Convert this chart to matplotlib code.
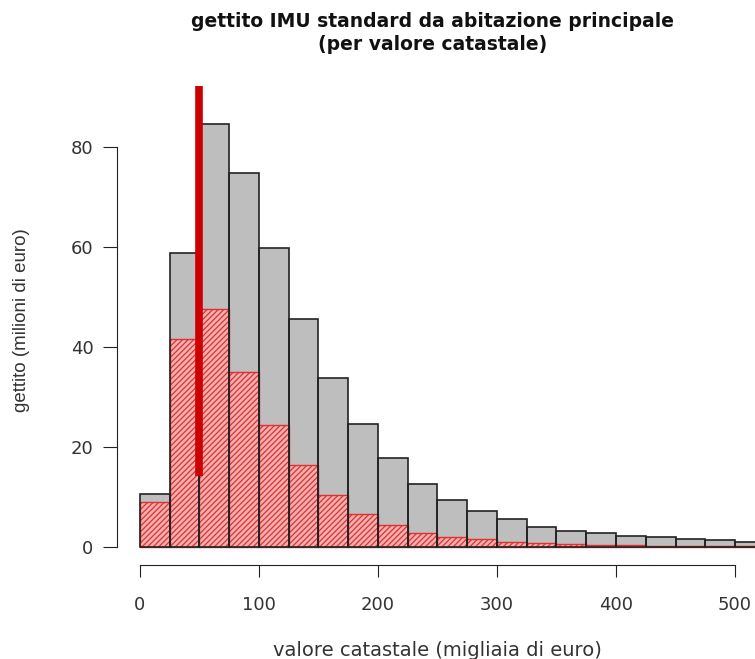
import matplotlib
matplotlib.use('Agg')
import matplotlib.pyplot as plt
import numpy as np

plt.rcParams['font.family'] = ['DejaVu Sans']
plt.rcParams['hatch.linewidth'] = 0.9

# bins of 25 (migliaia di euro)
bin_left = np.arange(0, 525, 25)
# total revenue per bin (gray)
gettito_tot = [10.6, 58.8, 84.6, 74.8, 59.8, 45.6, 33.8, 24.6, 17.8, 12.6,
               9.4, 7.2, 5.6, 4.0, 3.2, 2.8, 2.2, 2.0, 1.6, 1.4, 1.0]
# share (red hatched)
gettito_red = [9.0, 41.6, 47.6, 35.0, 24.4, 16.4, 10.4, 6.6, 4.4, 2.8,
               2.0, 1.6, 1.0, 0.8, 0.6, 0.5, 0.4, 0.3, 0.3, 0.2, 0.2]
# vertical marker
marker_x = 50
marker_y = (14.2, 92.2)

fig = plt.figure(figsize=(7.55, 6.59), dpi=100)
ax = fig.add_axes([117 / 755, (659 - 565) / 659, 1 - 117 / 755, (565 - 77) / 659])

ax.bar(bin_left, gettito_tot, width=25, align='edge', color='#bebebe', linewidth=0)
ax.bar(bin_left, gettito_red, width=25, align='edge', color='#f3b0b0',
       edgecolor='#e03030', hatch='//////', linewidth=1.0)
ax.bar(bin_left, gettito_tot, width=25, align='edge', fill=False,
       edgecolor='#222222', linewidth=1.2)
ax.vlines(marker_x, marker_y[0], marker_y[1], color='#cc0000', linewidth=5.5)

ax.set_xlim(-19.3, 516.8)
ax.set_ylim(-3.6, 94)

for s in ['top', 'right']:
    ax.spines[s].set_visible(False)
ax.spines['left'].set_bounds(0, 80)
ax.spines['bottom'].set_bounds(0, 500)
ax.spines['left'].set_color('#222222')
ax.spines['bottom'].set_color('#222222')

ax.set_xticks([0, 100, 200, 300, 400, 500])
ax.set_yticks([0, 20, 40, 60, 80])
ax.tick_params(axis='x', length=8.5, pad=14, labelsize=13, colors='#222222', labelcolor='#333333')
ax.tick_params(axis='y', length=10, pad=7, labelsize=13, colors='#222222', labelcolor='#333333')

fig.text(437 / 755, 1 - 650 / 659, 'valore catastale (migliaia di euro)', ha='center',
         va='center', fontsize=14, color='#333333')
fig.text(22 / 755, 1 - 320 / 659, 'gettito (milioni di euro)', ha='center',
         va='center', rotation=90, fontsize=13.5, color='#333333',
         family=['Liberation Sans', 'DejaVu Sans'])
fig.text(433 / 755, 1 - 33 / 659, 'gettito IMU standard da abitazione principale\n(per valore catastale)',
         ha='center', va='center', fontsize=13.5, fontweight='bold', linespacing=1.25,
         color='#111111')

fig.savefig('out.png', dpi=100)
